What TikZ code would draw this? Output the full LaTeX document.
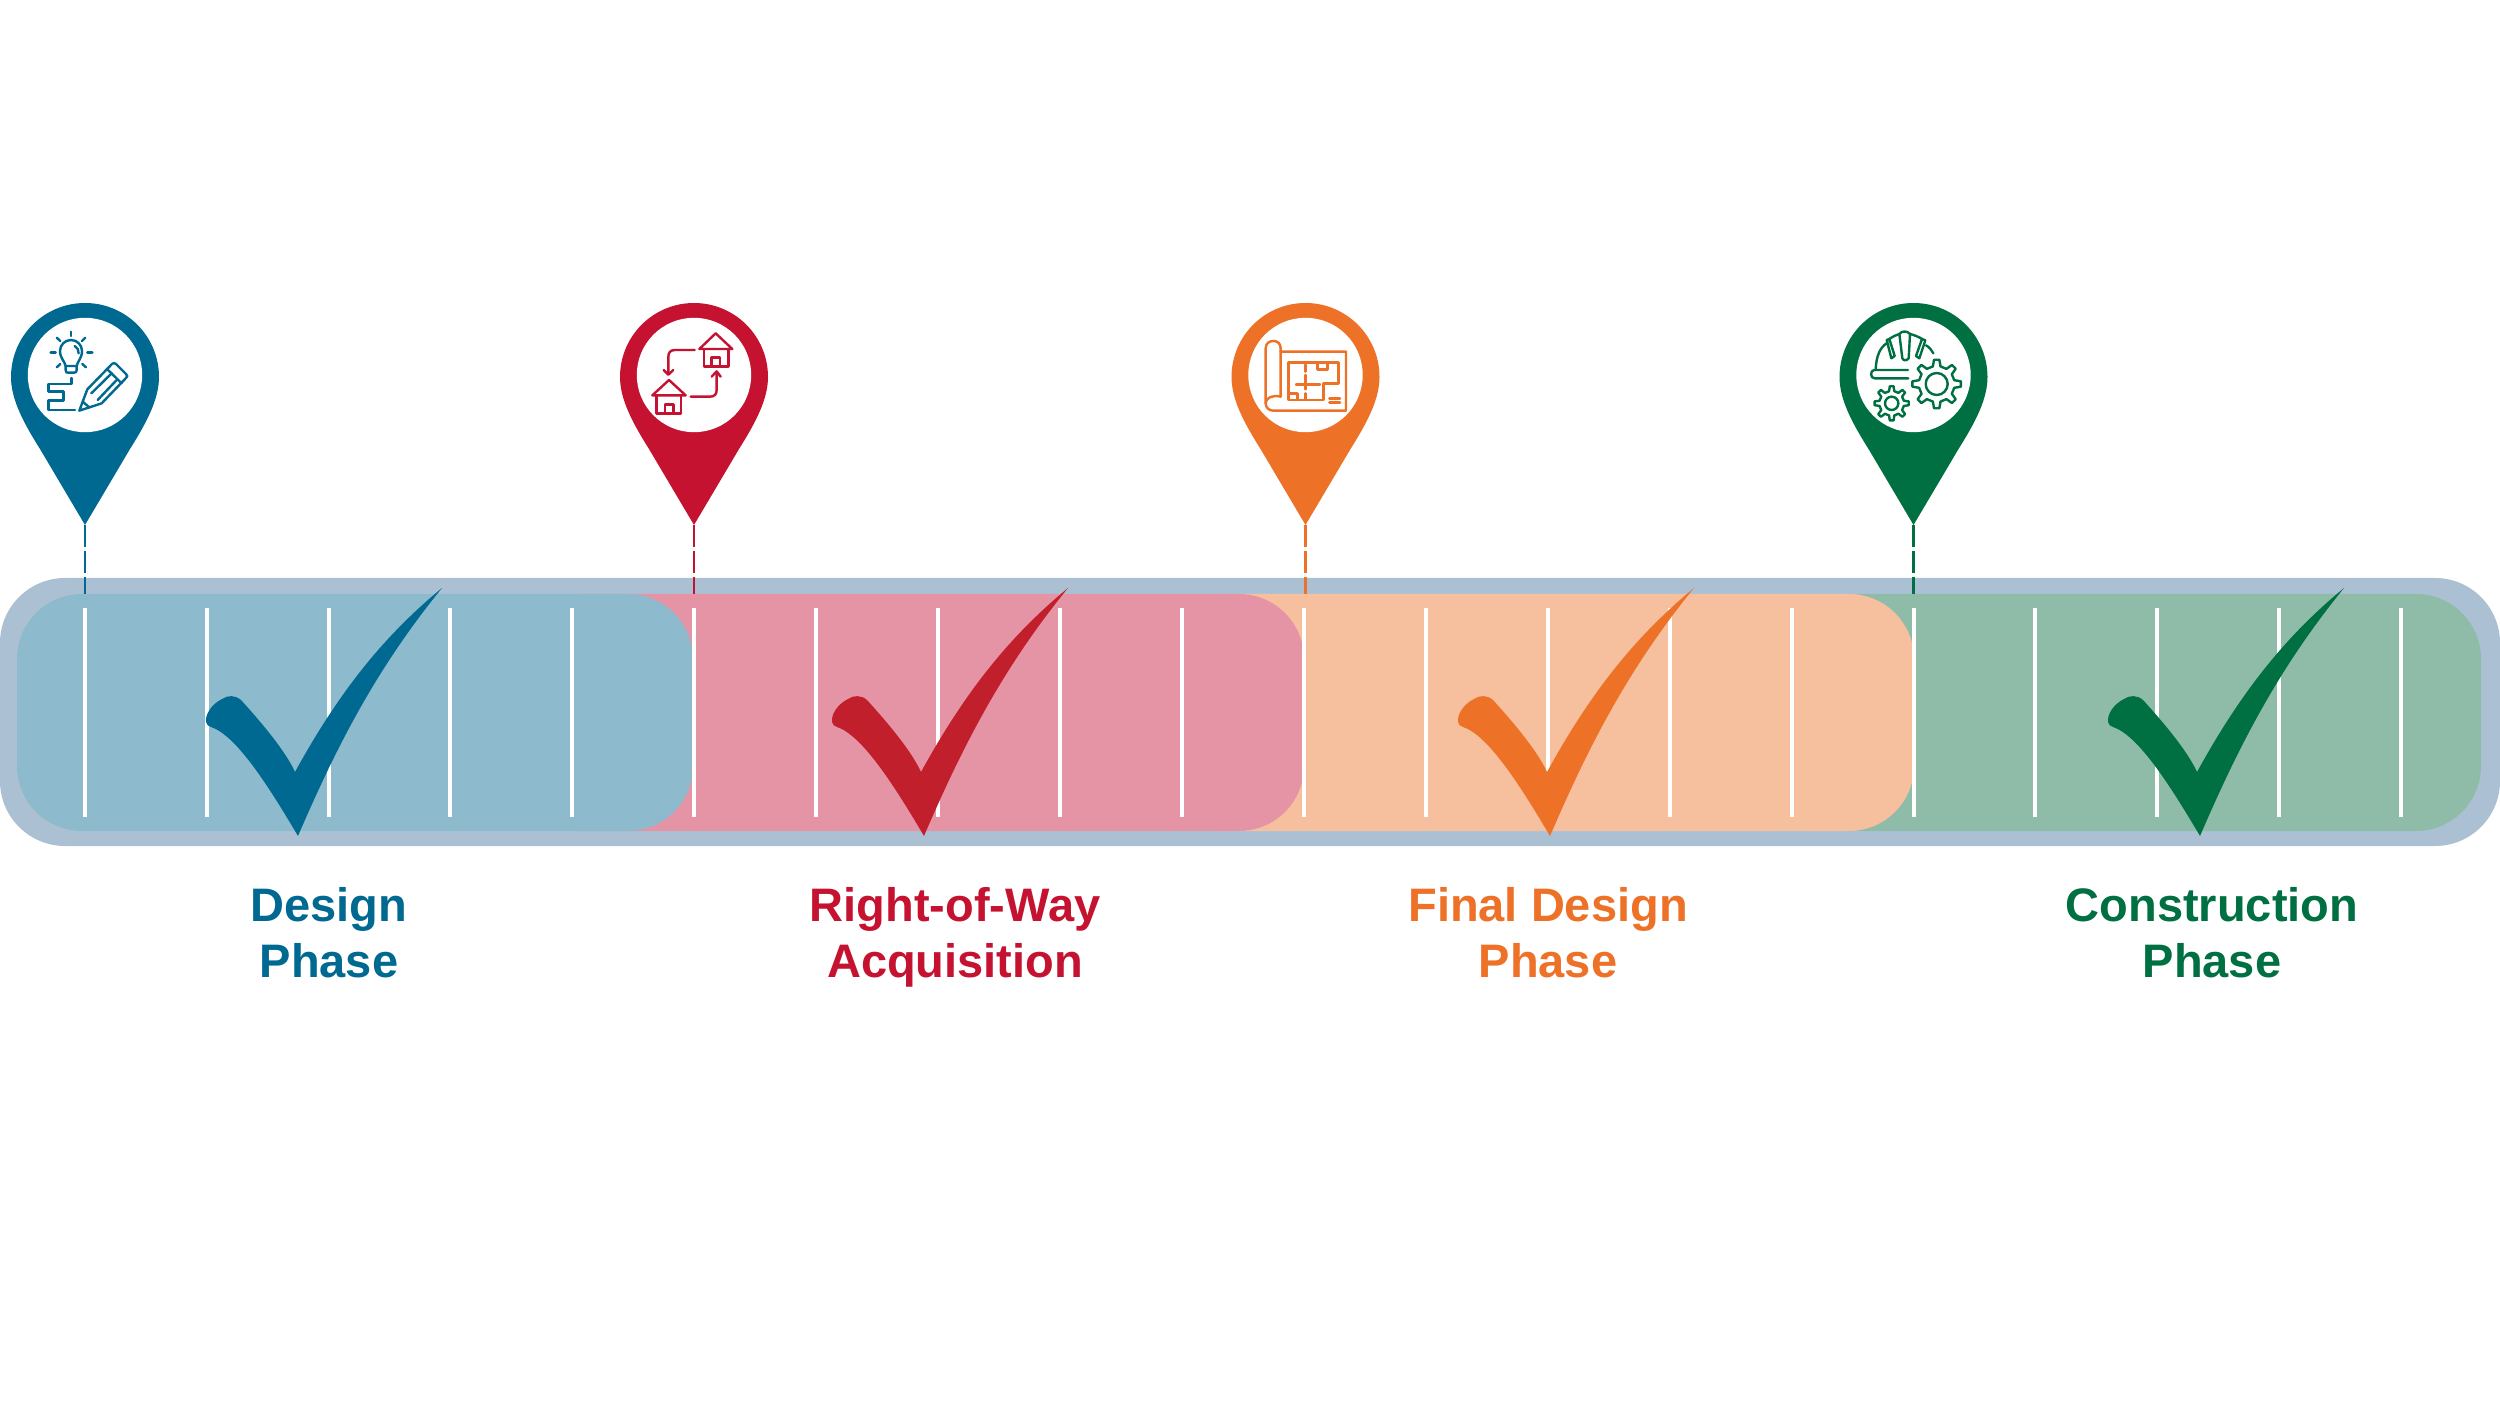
\documentclass[tikz,border=0pt]{standalone}
\usepackage{fontspec}
\setmainfont{Liberation Sans}
\usetikzlibrary{calc}
\definecolor{cblue}{HTML}{006991}
\definecolor{cred}{HTML}{C41230}
\definecolor{ccheckred}{HTML}{C21F2D}
\definecolor{corange}{HTML}{EE7128}
\definecolor{cgreen}{HTML}{006F41}
\definecolor{bblue}{HTML}{8DBACC}
\definecolor{bred}{HTML}{E594A5}
\definecolor{borange}{HTML}{F6BF9E}
\definecolor{bgreen}{HTML}{8EBCA8}
\definecolor{bouter}{HTML}{ABC1D3}
\tikzset{
  band/.style={rounded corners=32.5pt},
  tick/.style={draw=white,line width=2pt},
  phase/.style={align=center,font=\fontsize{23.5}{28}\selectfont\bfseries,inner sep=0pt},
  icon/.style={line width=1.2pt,line cap=round,line join=round,fill=none},
  stem/.style={line width=1.2pt,dash pattern=on 11pt off 2pt},
  zoomed/.style={x=0.16667pt,y=-0.16667pt},
}
\newcommand{\ls}{\rule[-6pt]{0pt}{20pt}}
% gear: centre, teeth, outer radius, root radius, ring radius, colour
\newcommand{\gearicon}[6]{%
  \draw[icon,#6] (#1) circle[radius=#5*0.16667pt];
  \draw[icon,#6] \foreach \gi in {1,...,#2}{
    \ifnum\gi=1 ($(#1)+({(\gi*360/#2)-(360/#2)*0.27}:#4)$) \else -- ($(#1)+({(\gi*360/#2)-(360/#2)*0.27}:#4)$)\fi
    -- ($(#1)+({(\gi*360/#2)-(360/#2)*0.14}:#3)$)
    -- ($(#1)+({(\gi*360/#2)+(360/#2)*0.14}:#3)$)
    -- ($(#1)+({(\gi*360/#2)+(360/#2)*0.27}:#4)$)
  } -- cycle;
}
\newcommand{\tickmark}[2]{%
  \fill[#2,shift={(#1,0)}] (442,588)
    .. controls (385,635) and (340,690) .. (295,772)
    .. controls (285,750) and (260,721) .. (241,700)
    .. controls (235,695) and (228,695) .. (222,699)
    .. controls (212,704) and (205,714) .. (206,722)
    .. controls (207,725) and (208,726) .. (211,727)
    .. controls (235,735) and (265,780) .. (298,836)
    .. controls (335,750) and (375,670) .. (442,588) -- cycle;
}
\newcommand{\pinshape}[2]{%
  \fill[#2,shift={(#1,377)}] (0,148) -- (-45,72)
    .. controls (-62,45) and (-74,22) .. (-74,0)
    arc[start angle=180,end angle=0,radius=37pt]
    .. controls (74,22) and (62,45) .. (45,72) -- cycle;
  \fill[white] (#1,375) circle[radius=28.6pt];
}
\begin{document}
\begin{tikzpicture}[x=0.5pt,y=-0.5pt]
\useasboundingbox (0,0) rectangle (2500,1406);
\fill[white] (0,0) rectangle (2500,1406);
% outer track
\fill[bouter,band] (0,578) rectangle (2500,846);
% phase bands
\fill[bgreen,band] (1800,594) rectangle (2481,831);
\fill[borange,band] (1150,594) rectangle (1914,831);
\fill[bred,band] (513,594) rectangle (1304,831);
\fill[bblue,band] (17,594) rectangle (693,831);
% ticks
\foreach \t in {85,207,329,450,572,694,816,938,1060,1182,1304,1426,1548,1670,1792,1914,2035,2157,2279,2401}
  \draw[tick] (\t,608) -- (\t,817);
% pins
\pinshape{85}{cblue}
\pinshape{694}{cred}
\pinshape{1305.5}{corange}
\pinshape{1913.5}{cgreen}
% stems
\coordinate (tip1) at (85,525);   \coordinate (foot1) at (85,594);
\coordinate (tip2) at (694,525);  \coordinate (foot2) at (694,594);
\coordinate (tip3) at (1305.5,525); \coordinate (foot3) at (1305.5,594);
\coordinate (tip4) at (1913.5,525); \coordinate (foot4) at (1913.5,594);
\draw[stem,cblue] (tip1) -- (foot1);
\draw[stem,cred] (tip2) -- (foot2);
\draw[stem,corange] (tip3) -- (foot3);
\draw[stem,cgreen] (tip4) -- (foot4);
% checks
\tickmark{0}{cblue}
\tickmark{626}{ccheckred}
\tickmark{1252}{corange}
\tickmark{1902}{cgreen}
% labels
\node[phase,text=cblue] (design) at (329,938) {\ls Design\\\ls Phase};
\node[phase,text=cred] (row) at (955,938) {\ls Right-of-Way\\\ls Acquisition};
\node[phase,text=corange] (final) at (1548,938) {\ls Final Design\\\ls Phase};
\node[phase,text=cgreen] (constr) at (2212,938) {\ls Construction\\\ls Phase};
% icon 1
\begin{scope}[shift={(0,290)},zoomed]
  \draw[icon,cblue] (197,228) .. controls (195,215) and (180,205) .. (180,183) arc[start angle=180,end angle=0,radius=5.5pt] .. controls (246,205) and (232,215) .. (230,228) -- cycle;
  \draw[icon,cblue] (197,228) -- (197,240) .. controls (197,248) and (200,248) .. (205,248) -- (222,248) .. controls (228,248) and (230,246) .. (230,240) -- (230,228);
  \draw[icon,cblue] (224,168) .. controls (232,172) and (236,180) .. (236,190);
  \foreach \a/\b/\c/\d in {213/125/213/138,170/143/181/153,256/143/246/153,152/187/167/187,262/187/277/187,170/232/181/222,258/232/247/222}
    \draw[icon,cblue] (\a,\b) -- (\c,\d);
  \draw[icon,cblue] (215,264) -- (215,282) -- (145,282) -- (145,305) -- (190,305) -- (190,332) -- (145,332) -- (145,360) -- (225,360);
  \draw[icon,cblue] (262,298) -- (336,222) .. controls (340,218) and (344,218) .. (348,222) -- (378,252) .. controls (383,257) and (383,260) .. (378,264) -- (305,340) -- (238,362) -- cycle;
  \draw[icon,cblue] (322,238) -- (365,280);
  \draw[icon,cblue] (274,310) -- (335,250) (293,330) -- (352,268);
  \draw[icon,cblue] (248,335) -- (268,352);
\end{scope}
% icon 2
\begin{scope}[shift={(600,290)},zoomed]
  \draw[icon,cred] (298,177) -- (347,130) -- (397,177) -- cycle;
  \draw[icon,cred] (312,177) -- (312,230) -- (385,230) -- (385,177);
  \draw[icon,cred] (335,228) -- (335,203) -- (360,203) -- (360,228);
  \draw[icon,cred] (157,316) -- (207,270) -- (257,316) -- cycle;
  \draw[icon,cred] (170,316) -- (170,370) -- (243,370) -- (243,316);
  \draw[icon,cred] (195,368) -- (195,343) -- (220,343) -- (220,368);
  \draw[icon,cred] (284,180) -- (225,180) .. controls (212,180) and (205,187) .. (205,200) -- (205,252);
  \draw[icon,cred] (191,240) -- (205,254) -- (220,240);
  \draw[icon,cred] (272,320) -- (330,320) .. controls (343,320) and (350,313) .. (350,300) -- (350,246);
  \draw[icon,cred] (335,260) -- (350,244) -- (362,260);
\end{scope}
% icon 3
\begin{scope}[shift={(1210,290)},zoomed]
  \draw[icon,corange] (167,340) -- (167,175) .. controls (167,160) and (178,153) .. (190,153) .. controls (202,153) and (212,160) .. (212,175) -- (212,320);
  \draw[icon,corange] (212,320) .. controls (190,314) and (167,322) .. (167,340) .. controls (167,354) and (178,362) .. (190,362) -- (408,362) -- (408,185) -- (212,185);
  \draw[icon,corange] (235,218) -- (385,218) -- (385,280) -- (340,280) -- (340,330) -- (235,330) -- cycle;
  \draw[icon,corange] (322,218) -- (322,238) -- (352,238) -- (352,218);
  \draw[icon,corange] (287,224) -- (287,245) (287,255) -- (287,298) (287,310) -- (287,328);
  \draw[icon,corange] (258,283) -- (330,283);
  \draw[icon,corange] (240,310) -- (262,310) -- (262,328);
  \draw[icon,corange] (358,325) -- (390,325) (358,338) -- (390,338);
\end{scope}
% icon 4
\begin{scope}[shift={(1820,290)},zoomed]
  \draw[icon,cgreen] (264,240) -- (162,240) .. controls (150,242) and (150,265) .. (164,265) -- (265,265);
  \draw[icon,cgreen] (167,240) .. controls (168,200) and (180,172) .. (200,160);
  \draw[icon,cgreen] (200,150) -- (208,147) -- (224,198) -- (214,205) -- cycle;
  \draw[icon,cgreen] (208,147) .. controls (218,140) and (228,135) .. (238,132);
  \draw[icon,cgreen] (238,132) .. controls (245,122) and (262,122) .. (270,132) -- (266,205) .. controls (258,213) and (252,213) .. (247,205) -- cycle;
  \draw[icon,cgreen] (270,132) .. controls (282,135) and (295,140) .. (306,147);
  \draw[icon,cgreen] (306,147) -- (316,151) -- (298,205) -- (288,198) -- cycle;
  \draw[icon,cgreen] (318,166) .. controls (328,172) and (335,180) .. (340,190);
  \gearicon{350,282}{8}{12.2pt}{9pt}{33}{cgreen}
  \gearicon{215,340}{8}{8.6pt}{6.2pt}{20}{cgreen}
\end{scope}
\end{tikzpicture}
\end{document}
